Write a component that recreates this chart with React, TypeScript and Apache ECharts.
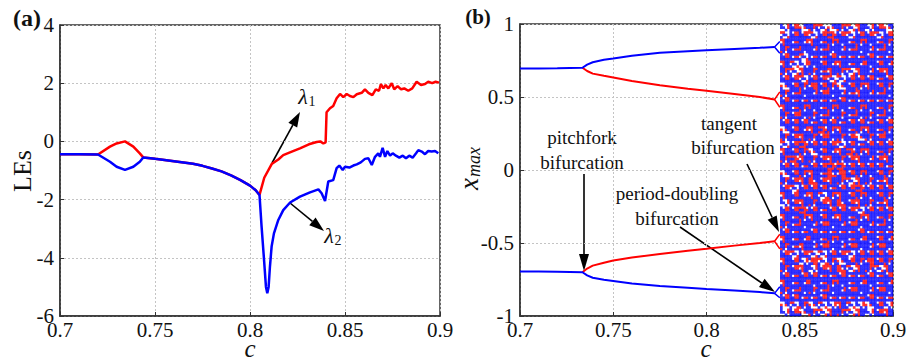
import React, { useEffect, useRef } from "react";
import * as echarts from "echarts";

// ---------- Panel (a): Lyapunov exponents ----------
const lam1C = [0.7, 0.71, 0.72, 0.7263, 0.7298, 0.7342, 0.7386, 0.742, 0.7438, 0.75, 0.76, 0.77, 0.775, 0.78, 0.785, 0.79, 0.795, 0.8, 0.803, 0.805,
  0.8075, 0.8114, 0.8149, 0.8175, 0.822, 0.8263, 0.831, 0.8351, 0.837, 0.8386, 0.8398, 0.8403, 0.8421, 0.8438, 0.8456, 0.8474, 0.8491, 0.8509,
  0.8526, 0.8544, 0.8562, 0.8588, 0.8605, 0.8623, 0.8644, 0.8662, 0.8679, 0.8689, 0.8702, 0.8714, 0.8728, 0.8746, 0.8759, 0.8777, 0.8795,
  0.8812, 0.8833, 0.8854, 0.8877, 0.89, 0.8921, 0.8938, 0.8959, 0.8977, 0.8995];
const lam1V = [-0.44, -0.44, -0.45, -0.18, -0.07, 0.0, -0.18, -0.41, -0.55, -0.6, -0.68, -0.77, -0.84, -0.93, -1.03, -1.17, -1.33, -1.52, -1.68, -1.84,
  -1.25, -0.78, -0.62, -0.47, -0.35, -0.24, -0.1, -0.02, 0.0, -0.07, -0.03, 1.0, 1.14, 1.22, 1.48, 1.63, 1.52, 1.63,
  1.56, 1.52, 1.62, 1.67, 1.79, 1.67, 1.59, 1.79, 1.74, 1.97, 1.82, 1.94, 1.82, 2.0, 1.79, 1.9, 1.79,
  1.82, 1.74, 1.82, 2.05, 1.94, 1.97, 2.05, 2.0, 2.05, 2.02];

const lam2C = [0.7, 0.71, 0.72, 0.7263, 0.7298, 0.7342, 0.7386, 0.742, 0.7438, 0.75, 0.76, 0.77, 0.775, 0.78, 0.785, 0.79, 0.795, 0.8, 0.803, 0.805,
  0.8061, 0.8074, 0.8084, 0.8091, 0.8098, 0.8105, 0.8114, 0.8126, 0.8149, 0.8175, 0.8211, 0.8263, 0.8316, 0.836, 0.8377, 0.8395, 0.8412,
  0.8438, 0.8456, 0.847, 0.8488, 0.85, 0.8523, 0.8544, 0.8562, 0.8583, 0.8605, 0.8623, 0.8641, 0.8658, 0.8675, 0.8684, 0.8698, 0.8711,
  0.8723, 0.8737, 0.8751, 0.8768, 0.8786, 0.8804, 0.8821, 0.8838, 0.8856, 0.8874, 0.8886, 0.8904, 0.8921, 0.8938, 0.8956, 0.8974, 0.8991];
const lam2V = [-0.44, -0.44, -0.45, -0.7, -0.87, -0.98, -0.87, -0.7, -0.55, -0.6, -0.68, -0.77, -0.84, -0.93, -1.03, -1.17, -1.33, -1.52, -1.68, -1.84,
  -2.93, -4.08, -5.0, -5.22, -5.0, -4.3, -3.6, -3.16, -2.7, -2.36, -2.1, -1.9, -1.75, -1.65, -1.78, -2.05, -1.38,
  -1.33, -0.92, -0.83, -0.98, -0.87, -0.9, -0.83, -0.79, -0.72, -0.6, -0.58, -0.81, -0.53, -0.41, -0.53, -0.22, -0.53,
  -0.33, -0.49, -0.41, -0.49, -0.56, -0.49, -0.58, -0.49, -0.56, -0.41, -0.3, -0.35, -0.44, -0.33, -0.35, -0.33, -0.41];

// ---------- Panel (b): bifurcation diagram ----------
const bifC = [0.7, 0.71, 0.72, 0.7335, 0.736, 0.739, 0.745, 0.75, 0.76, 0.775, 0.79, 0.8, 0.815, 0.8286, 0.8365];
const blueUpper = [0.695, 0.696, 0.697, 0.7, 0.722, 0.738, 0.755, 0.764, 0.783, 0.803, 0.814, 0.82, 0.829, 0.837, 0.843];
const redUpper = [null, null, null, 0.7, 0.678, 0.66, 0.645, 0.634, 0.61, 0.58, 0.557, 0.542, 0.52, 0.5, 0.483];
const blueLower = [-0.695, -0.696, -0.697, -0.7, -0.722, -0.738, -0.752, -0.76, -0.778, -0.795, -0.807, -0.815, -0.826, -0.836, -0.845];
const redLower = [null, null, null, -0.7, -0.675, -0.655, -0.635, -0.62, -0.6, -0.575, -0.553, -0.54, -0.518, -0.5, -0.488];
// period-doubling forks: end, apex, end
const forkC = [0.8393, 0.8365, 0.8393];
const forkBlueUp = [0.88, 0.843, 0.8];
const forkRedUp = [0.535, 0.483, 0.43];
const forkRedLo = [-0.44, -0.488, -0.54];
const forkBlueLo = [-0.8, -0.845, -0.875];

// chaotic band (c 0.8395 – 0.9), read as a colour/density map: rows x = 1 … -1 (step 0.05), 12 columns
// B dense blue, M mixed red/blue, R red-heavy, W sparse
const chaosStart = 0.8395;
const chaosEnd = 0.9;
const chaosMap = [
  "WMWMWWMWMWMW", "WMMWMRMWMMWM", "MBBMBMBBMBBM", "MBBBBBBBBBBB", "MBWBBMBBBMBB",
  "MWWBMBMBBBMB", "MWMMBMMWMBMM", "MMWMMWWMMMBM", "WMMRMMWMMMMM", "MBBBMBBBMBBB",
  "MBBBBBMBBBBB", "MBMBBMBBMBBM", "MMBMBBMBBMBB", "MMMBMMBMMBMM", "WMBMRMMBMMBM",
  "MMMMMBMMWMMB", "WMRMMMWMBMMM", "MMMWMBMRMMBM", "MRMMMMMMMBMM", "MMBMMRRMMMMB",
  "WMMMBRRMMBMM", "MMMRMMMWMMBM", "MWMMMBMMRMMM", "MMBMWMMMMBMM", "WMMMMMRMMMBM",
  "MMRMBMMMWMMM", "MBMMMBMBMMBM", "MBBBMBBMBBBB", "MBBMBBBBMBBB", "MBBBBMBBBBMB",
  "MBMBMBBMBBMB", "MWMWWMMWMMMM", "MMWRWMWMMRMM", "MMMWMMRWMMWM", "MBMMBBMBBMBM",
  "MBBBBMBBBBBB", "MBBMBBBMBBMB", "MMBBMBBBBMBB", "WWMWWWMWWWMW", "WMWMWMMWMWMM",
];
// 4 x 3 dot layouts for each cell kind (three variants each)
const cellPatterns: Record<string, string[]> = {
  B: ["bbbrbb.rbbbb", "rbbbrbbbbb.b", "bbbbb.rrbbbb"],
  M: ["bbrrbbrbrb.b", "rrbb.rbbbrbb", "b.rrbbrrbbbb"],
  R: ["rrbbrr.brrrr", "brrr.rrrbbrr", "rrr.bbrrrrrb"],
  W: ["b..rbb.r..b.", "..bbr.rbb...", "rr...bb.b..r"],
};

const xTicks = ["0.7", "0.75", "0.8", "0.85", "0.9"];

const FONT = "Liberation Serif";
const RED = "#ff0000";
const BLUE = "#0000ff";

function zip(cs: number[], vs: (number | null)[]) {
  return cs.map((c, i) => [c, vs[i]]);
}

function buildChaos() {
  const red: number[][] = [];
  const blue: number[][] = [];
  const nRows = chaosMap.length;
  const nCols = chaosMap[0].length;
  const dc = (chaosEnd - chaosStart) / nCols;
  const dx = 2 / nRows;
  for (let r = 0; r < nRows; r++) {
    for (let k = 0; k < nCols; k++) {
      const variants = cellPatterns[chaosMap[r][k]];
      const pat = variants[(r * 2 + k * 5 + ((r * k) % 3)) % 3];
      for (let j = 0; j < 3; j++) {
        for (let i = 0; i < 4; i++) {
          const ch = pat[j * 4 + i];
          const c = chaosStart + k * dc + ((i + 0.5) * dc) / 4;
          const x = 1 - r * dx - ((j + 0.5) * dx) / 3;
          if (ch === "r") red.push([c, x]);
          else if (ch === "b") blue.push([c, x]);
        }
      }
    }
  }
  return { red, blue };
}

function arrow(x1: number, y1: number, x2: number, y2: number, hl: number, hw: number) {
  const dx = x2 - x1, dy = y2 - y1;
  const L = Math.hypot(dx, dy);
  const ux = dx / L, uy = dy / L;
  const bx = x2 - ux * hl, by = y2 - uy * hl;
  const px = -uy, py = ux;
  return [
    { type: "line", silent: true, shape: { x1, y1, x2: bx, y2: by }, style: { stroke: "#000", lineWidth: 1.6 } },
    {
      type: "polygon", silent: true,
      shape: { points: [[x2, y2], [bx + (px * hw) / 2, by + (py * hw) / 2], [bx - (px * hw) / 2, by - (py * hw) / 2]] },
      style: { fill: "#000" },
    },
  ];
}

function txt(text: string, x: number, y: number, size: number, opts: any = {}) {
  const font = `${opts.italic ? "italic " : ""}${opts.bold ? "bold " : ""}${size}px '${FONT}'`;
  const style: any = {
    text, font, fill: "#111",
    align: opts.align || "center", verticalAlign: opts.va || "middle",
  };
  return { type: "text", silent: true, x, y, rotation: opts.rotation || 0, style };
}

export default function App() {
  const ref = useRef<HTMLDivElement>(null);
  useEffect(() => {
    document.body.style.margin = "0";
    const chart = echarts.init(ref.current!, null, { renderer: "svg" });
    const chaos = buildChaos();
    const fmt = (v: number) => String(+v.toFixed(2));
    const axisCommon = {
      axisLine: { show: true, onZero: false, lineStyle: { color: "#333", width: 1.5 } },
      axisTick: { show: true, inside: true, length: 4, lineStyle: { color: "#333" } },
      splitLine: { show: true, lineStyle: { color: "#c4c4c4", type: [2, 2], width: 1 } },
      axisLabel: { fontFamily: FONT, fontSize: 21, color: "#111", formatter: fmt },
    };
    const xLab = {
      ...axisCommon.axisLabel, margin: 3,
      formatter: (v: number) => xTicks[Math.round((v - 0.7) / 0.05)] ?? fmt(v),
    };
    const yLab = { ...axisCommon.axisLabel, margin: 6 };
    const lineS = (data: any[], color: string, w: number, xi: number) => ({
      type: "line", data, xAxisIndex: xi, yAxisIndex: xi, showSymbol: false, symbol: "none",
      lineStyle: { color, width: w }, itemStyle: { color }, silent: true, connectNulls: false,
    });
    chart.setOption({
      animation: false,
      grid: [
        { left: 60, top: 25, width: 380, height: 291, show: true, borderColor: "#333", borderWidth: 1.5, backgroundColor: "#fff" },
        { left: 520, top: 24, width: 373, height: 292, show: true, borderColor: "#333", borderWidth: 1.5, backgroundColor: "#fff" },
      ],
      xAxis: [
        { type: "value", gridIndex: 0, min: 0.7, max: 0.9, interval: 0.05, ...axisCommon, axisLabel: xLab },
        { type: "value", gridIndex: 1, min: 0.7, max: 0.9, interval: 0.05, ...axisCommon, axisLabel: xLab },
      ],
      yAxis: [
        { type: "value", gridIndex: 0, min: -6, max: 4, interval: 2, ...axisCommon, axisLabel: yLab },
        { type: "value", gridIndex: 1, min: -1, max: 1, interval: 0.5, ...axisCommon, axisLabel: yLab },
      ],
      series: [
        lineS(zip(lam1C, lam1V), RED, 2.5, 0),
        lineS(zip(lam2C, lam2V), BLUE, 2.5, 0),
        {
          type: "scatter", xAxisIndex: 1, yAxisIndex: 1, data: chaos.red, symbol: "rect", symbolSize: 2.7,
          itemStyle: { color: RED }, silent: true,
        },
        {
          type: "scatter", xAxisIndex: 1, yAxisIndex: 1, data: chaos.blue, symbol: "rect", symbolSize: 2.7,
          itemStyle: { color: BLUE }, silent: true,
        },
        lineS(zip(bifC, redUpper), RED, 2, 1),
        lineS(zip(bifC, redLower), RED, 2, 1),
        lineS(zip(bifC, blueUpper), BLUE, 2, 1),
        lineS(zip(bifC, blueLower), BLUE, 2, 1),
        lineS(zip(forkC, forkBlueUp), BLUE, 1.5, 1),
        lineS(zip(forkC, forkRedUp), RED, 1.5, 1),
        lineS(zip(forkC, forkRedLo), RED, 1.5, 1),
        lineS(zip(forkC, forkBlueLo), BLUE, 1.5, 1),
      ],
      graphic: [
        txt("(a)", 27, 18, 24, { bold: true }),
        txt("(b)", 478, 17, 21, { bold: true }),
        txt("LEs", 22, 171, 26, { rotation: Math.PI / 2 }),
        txt("c", 250, 348, 25, { italic: true }),
        txt("c", 706, 348, 25, { italic: true }),
        {
          type: "group", x: 469, y: 190, rotation: Math.PI / 2, silent: true,
          children: [
            txt("x", 0, 0, 27, { italic: true, align: "left" }),
            txt("max", 13, 5, 18, { italic: true, align: "left" }),
          ],
        },
        // lambda labels
        txt("λ", 303, 96, 22, { italic: true }),
        txt("1", 312, 101, 14),
        txt("λ", 329, 235, 22, { italic: true }),
        txt("2", 338, 240, 14),
        ...arrow(272, 163, 300, 112, 15, 10),
        ...arrow(290, 203, 324, 231, 15, 10),
        // bifurcation notes
        txt("pitchfork", 582, 137, 19),
        txt("bifurcation", 582, 162, 19),
        ...arrow(584, 174, 584, 271, 17, 10),
        txt("tangent", 729, 123, 19),
        txt("bifurcation", 733, 147, 19),
        ...arrow(747, 164, 779, 232, 16, 10),
        txt("period-doubling", 677, 193, 19),
        txt("bifurcation", 677, 218, 19),
        ...arrow(680, 227, 775, 292, 16, 10),
      ],
    });
    return () => chart.dispose();
  }, []);
  return <div ref={ref} style={{ width: 914, height: 362 }} />;
}
